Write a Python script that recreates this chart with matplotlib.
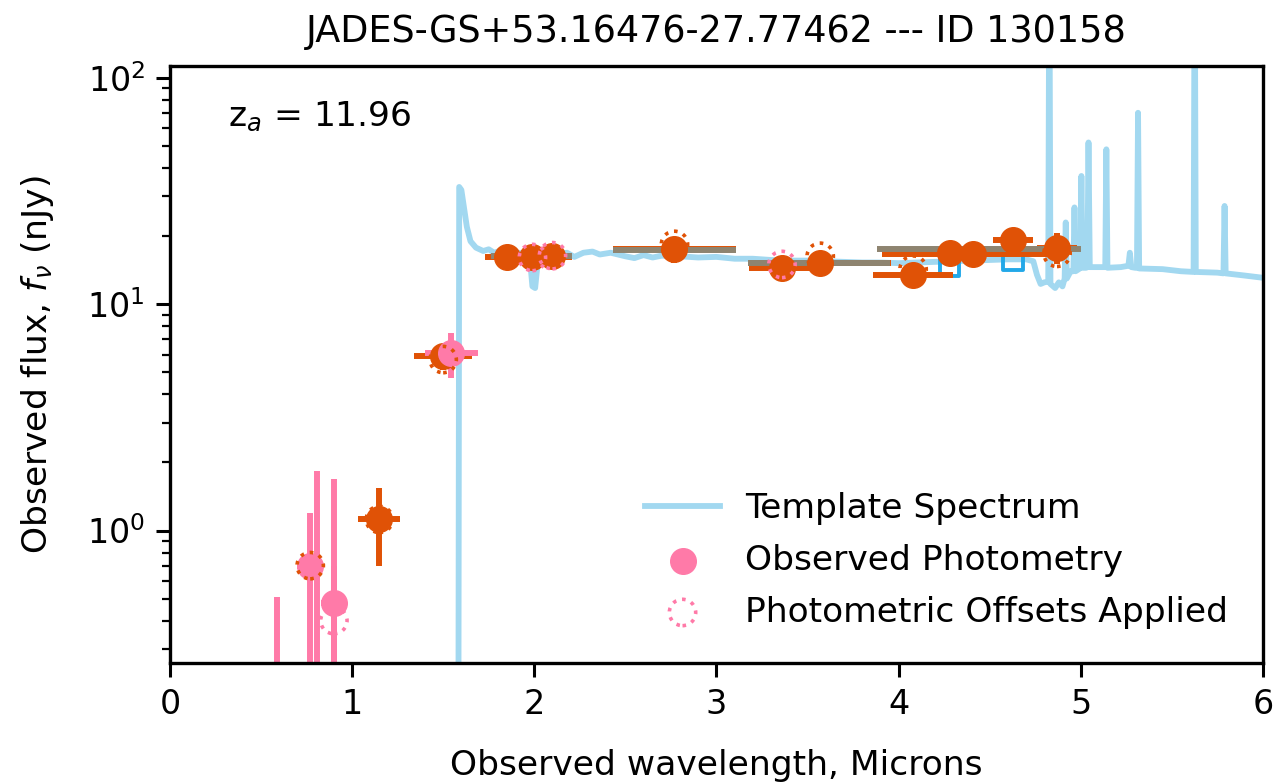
import numpy as np
import matplotlib
matplotlib.use("Agg")
import matplotlib.pyplot as plt

# ---------------- data ----------------
title = "JADES-GS+53.16476-27.77462 --- ID 130158"
z_a = 11.96

# Template spectrum (microns, nJy)
tmpl_wave = [0.40, 1.580, 1.588, 1.600, 1.630, 1.650, 1.680, 1.720, 1.750, 1.780, 1.820,
             1.860, 1.900, 1.950, 1.975, 1.990, 2.005, 2.020, 2.030, 2.080, 2.120, 2.180,
             2.220, 2.270, 2.320, 2.360, 2.420, 2.500, 2.550, 2.600, 2.650, 2.700, 2.800,
             2.900, 3.000, 3.100, 3.200, 3.300, 3.400, 3.500, 3.600, 3.700, 3.800, 3.900,
             4.000, 4.100, 4.200, 4.300, 4.400, 4.500, 4.600, 4.700, 4.740, 4.760, 4.780,
             4.800, 4.822, 4.828, 4.834, 4.860, 4.880, 4.900, 4.912, 4.918, 4.924, 4.945,
             4.960, 4.966, 4.972, 4.990, 4.998, 5.004, 5.010, 5.030, 5.037, 5.043, 5.050,
             5.100, 5.135, 5.141, 5.147, 5.220, 5.262, 5.270, 5.278, 5.300, 5.309, 5.315,
             5.321, 5.450, 5.550, 5.620, 5.626, 5.632, 5.750, 5.784, 5.790, 5.796, 5.900,
             6.000, 6.100]
tmpl_flux = [0.001, 0.001, 33.0, 32.0, 22.0, 19.0, 17.8, 17.2, 17.5, 16.9, 17.3,
             16.8, 17.0, 16.6, 16.3, 12.0, 11.8, 15.5, 16.8, 17.0, 16.6, 16.9,
             16.2, 16.9, 17.1, 16.6, 16.9, 16.3, 16.0, 16.5, 16.1, 16.4, 16.3,
             16.1, 16.2, 15.9, 15.9, 15.7, 15.6, 15.6, 15.5, 15.4, 15.3, 15.3,
             15.2, 15.3, 15.4, 15.5, 15.6, 15.7, 15.8, 15.8, 15.5, 13.5, 12.3,
             12.5, 12.6, 400.0, 12.3, 11.8, 12.5, 12.0, 13.0, 23.0, 13.0, 14.0,
             14.0, 26.8, 14.0, 14.3, 14.5, 36.9, 14.5, 14.5, 14.6, 51.9, 14.6,
             14.6, 14.6, 48.4, 14.5, 14.6, 14.8, 16.9, 14.6, 14.5, 14.5, 70.2,
             14.4, 14.3, 14.0, 13.9, 400.0, 13.9, 13.8, 13.7, 27.2, 13.7, 13.4,
             13.1, 13.0]

# NIRCam photometry (orange)
nrc_wave = [0.90, 1.15, 1.50, 1.85, 1.99, 2.10, 2.77, 3.36, 3.57, 4.08, 4.28, 4.41, 4.63, 4.87]
nrc_flux = [0.05, 1.12, 5.9, 16.1, 16.1, 16.4, 17.5, 14.5, 15.3, 13.5, 16.9, 16.6, 19.2, 17.8]
nrc_ferr = [0.65, 0.42, 0.8, 1.2, 1.0, 1.5, 2.3, 1.5, 1.2, 1.5, 2.0, 1.0, 2.5, 2.8]
nrc_werr = [0.10, 0.115, 0.16, 0.12, 0.22, 0.10, 0.34, 0.18, 0.39, 0.22, 0.10, 0.50, 0.11, 0.11]

# HST photometry (pink)
hst_wave = [0.59, 0.77, 0.81, 0.90, 1.545]
hst_flux = [0.0, 0.70, 0.0, 0.48, 6.1]
hst_ferr = [0.51, 0.50, 1.83, 1.21, 1.4]
hst_werr = [0.10, 0.07, 0.10, 0.07, 0.145]

# photometry with offsets applied (dotted circles)
off_wave = [0.77, 0.90, 1.15, 1.50, 1.99, 2.10, 2.77, 3.36, 3.57, 4.08, 4.87]
off_flux = [0.70, 0.40, 1.12, 5.7, 16.1, 16.4, 18.4, 15.0, 16.3, 14.3, 16.8]
off_color = ['o', 'p', 'o', 'o', 'p', 'p', 'o', 'p', 'o', 'o', 'o']

# model band fluxes, wide filters (grey bars)
mod_wave = [1.985, 2.77, 3.565, 4.44]
mod_flux = [16.4, 17.4, 15.3, 17.6]
mod_werr = [0.225, 0.34, 0.39, 0.56]

# model band fluxes, medium filters (blue squares)
sq_wave = [4.28, 4.63]
sq_flux = [14.7, 15.6]

# ---------------- style ----------------
C_TMPL = '#a2d8f0'
C_NRC = '#e05206'
C_HST = '#ff7aa8'
C_MOD = '#8e8470'
C_SQ = '#22a8e8'
FS = 24.8

plt.rcParams['font.family'] = ['DejaVu Sans']
fig = plt.figure(figsize=(12.73, 7.83), dpi=100)
ax = fig.add_axes([0.1335, 0.1533, 0.8585, 0.7624])

ax.plot(tmpl_wave, tmpl_flux, color=C_TMPL, lw=4.2, zorder=1, label='Template Spectrum')

ax.scatter(sq_wave, sq_flux, marker='s', s=200, facecolors='none',
           edgecolors=C_SQ, linewidths=2.8, zorder=1.5)

ax.errorbar(nrc_wave, nrc_flux, yerr=nrc_ferr, xerr=nrc_werr, fmt='none',
            ecolor=C_NRC, elinewidth=4.3, capsize=0, zorder=2)
ax.errorbar(hst_wave, hst_flux, yerr=hst_ferr, xerr=hst_werr, fmt='none',
            ecolor=C_HST, elinewidth=4.3, capsize=0, zorder=2)

ax.errorbar(mod_wave, mod_flux, xerr=mod_werr, fmt='none', ecolor=C_MOD,
            elinewidth=4.3, capsize=0, zorder=3)

ax.scatter(nrc_wave, nrc_flux, s=340, color=C_NRC, zorder=4)
ax.scatter(hst_wave, hst_flux, s=340, color=C_HST, zorder=4, label='Observed Photometry')

for w, f, c in zip(off_wave, off_flux, off_color):
    ax.scatter([w], [f], s=360, facecolors='none',
               edgecolors=C_NRC if c == 'o' else C_HST,
               linestyle=':', linewidths=2.6, zorder=5)
ax.scatter([], [], s=360, facecolors='none', edgecolors=C_HST, linestyle=':',
           linewidths=2.6, label='Photometric Offsets Applied')

ax.set_yscale('log')
ax.set_xlim(0, 6)
ax.set_ylim(0.26, 113)

ax.set_title(title, fontsize=26.4, pad=17)
ax.set_xlabel('Observed wavelength, Microns', fontsize=FS, labelpad=20)
ax.set_ylabel(r'Observed flux, $f_\nu$ (nJy)', fontsize=FS, labelpad=22)
ax.tick_params(axis='both', which='major', labelsize=24, length=10, width=2.2, pad=8)
ax.tick_params(axis='both', which='minor', length=6, width=1.6)
for sp in ax.spines.values():
    sp.set_linewidth(2.4)

ax.text(0.053, 0.915, r'z$_a$ = %.2f' % z_a, transform=ax.transAxes, fontsize=FS,
        va='center', ha='left')

leg = ax.legend(loc='lower right', fontsize=FS, frameon=False, handlelength=2.15,
                handletextpad=0.75, borderaxespad=0.6, labelspacing=0.55)

fig.savefig('out.png', dpi=100)
